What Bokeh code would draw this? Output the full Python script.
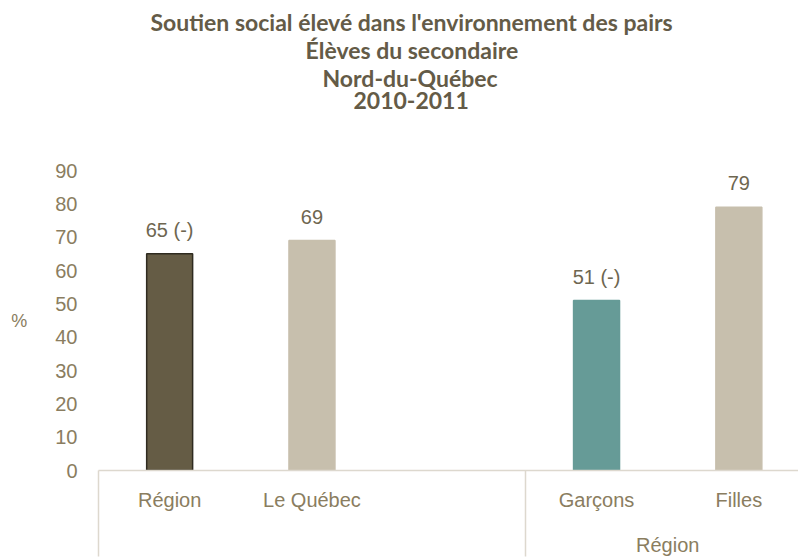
from bokeh.plotting import figure
from bokeh.models import ColumnDataSource, FixedTicker, LabelSet, Range1d, Title, LinearAxis
from bokeh.core.properties import value
from bokeh.embed import file_html
from bokeh.resources import INLINE

# ---- data ----
title_lines = ["Soutien social élevé dans l'environnement des pairs",
               "Élèves du secondaire", "Nord-du-Québec", "2010-2011"]
group1_cats = ["Région", "Le Québec"]
group1_vals = [65, 69]
group1_lbls = ["65 (-)", "69"]
group2_name = "Région"
group2_cats = ["Garçons", "Filles"]
group2_vals = [51, 79]
group2_lbls = ["51 (-)", "79"]
y_ticks = [0, 10, 20, 30, 40, 50, 60, 70, 80, 90]
y_title = "%"

# ---- styles ----
fill_colors = ["#655C45", "#C7BFAD", "#669B97", "#C7BFAD"]
line_colors = ["#2F2B20", None, None, None]
tick_col = "#8A7D60"
val_col = "#6E6650"
title_col = "#645B47"
box_col = "#DDD8CE"
FONT = "Liberation Sans"
title_offsets = [52, 207, 224, 255]   # left offsets (px) that centre each line
title_standoff = -2
spacer_standoff = 44

cats = group1_cats + group2_cats
vals = group1_vals + group2_vals
lbls = group1_lbls + group2_lbls
gap = 1
xs = list(range(len(group1_cats))) + [len(group1_cats) + gap + i for i in range(len(group2_cats))]
bounds = [-0.5, len(group1_cats) + gap - 0.5]
g2_center = sum(xs[len(group1_cats):]) / len(group2_cats)

src = ColumnDataSource(dict(x=xs, top=vals, lbl=lbls, fill=fill_colors,
                            line=[c if c else f for c, f in zip(line_colors, fill_colors)]))

slot_px = 142.3
frame_w = 700
p = figure(width=798, height=558, output_backend="svg", toolbar_location=None, title=None,
           x_range=Range1d(-0.5, -0.5 + frame_w / slot_px), y_range=Range1d(0, 90),
           min_border_left=98, min_border_right=0, min_border_top=170, min_border_bottom=86)
p.outline_line_color = None
p.xgrid.grid_line_color = None
p.ygrid.grid_line_color = None
p.background_fill_color = "white"
p.border_fill_color = "white"

p.vbar(x="x", top="top", width=0.323, bottom=0, source=src, fill_color="fill",
       line_color="line", line_width=1.5)

p.add_layout(LabelSet(x="x", y="top", text="lbl", source=src, y_offset=24,
                      text_align="center", text_baseline="middle",
                      text_font=value(FONT), text_font_size="20px", text_color=val_col))

# y axis
ya = p.yaxis[0]
ya.ticker = FixedTicker(ticks=y_ticks)
ya.axis_line_color = None
ya.major_tick_line_color = None
ya.minor_tick_line_color = None
ya.major_tick_out = 0
ya.major_label_standoff = 21
ya.major_label_text_font = FONT
ya.major_label_text_font_size = "20px"
ya.major_label_text_color = tick_col
ya.axis_label = y_title
ya.axis_label_orientation = "horizontal"
ya.axis_label_standoff = 25
ya.axis_label_text_font = FONT
ya.axis_label_text_font_style = "normal"
ya.axis_label_text_font_size = "18px"
ya.axis_label_text_color = tick_col

# x axis (categories + group separators)
xa = p.xaxis[0]
xa.ticker = FixedTicker(ticks=xs, minor_ticks=bounds)
xa.major_label_overrides = {x: c for x, c in zip(xs, cats)}
xa.axis_line_color = box_col
xa.axis_line_width = 1.5
xa.major_tick_line_color = None
xa.major_tick_out = 0
xa.major_tick_in = 0
xa.minor_tick_line_color = box_col
xa.minor_tick_line_width = 1.5
xa.minor_tick_in = 0
xa.minor_tick_out = 86
xa.major_label_standoff = 18 - 86
xa.major_label_text_font = FONT
xa.major_label_text_font_size = "20px"
xa.major_label_text_color = tick_col

# group label axis
ga = LinearAxis(ticker=FixedTicker(ticks=[g2_center]),
                major_label_overrides={g2_center: group2_name})
ga.axis_line_color = None
ga.major_tick_line_color = None
ga.minor_tick_line_color = None
ga.major_tick_out = 0
ga.major_tick_in = 0
ga.major_label_standoff = 20
ga.major_label_text_font = FONT
ga.major_label_text_font_size = "20px"
ga.major_label_text_color = tick_col
p.add_layout(ga, "below")

# spacer between title block and plot area
p.add_layout(Title(text=" ", standoff=spacer_standoff, text_font_size="16px"), "above")
# title lines (added closest-first)
for t, off in reversed(list(zip(title_lines, title_offsets))):
    p.add_layout(Title(text=t, align="left", offset=off, standoff=title_standoff,
                       text_font="Lato", text_font_style="bold",
                       text_font_size="23px", text_color=title_col), "above")

open("out.html", "w").write(file_html(p, INLINE))
